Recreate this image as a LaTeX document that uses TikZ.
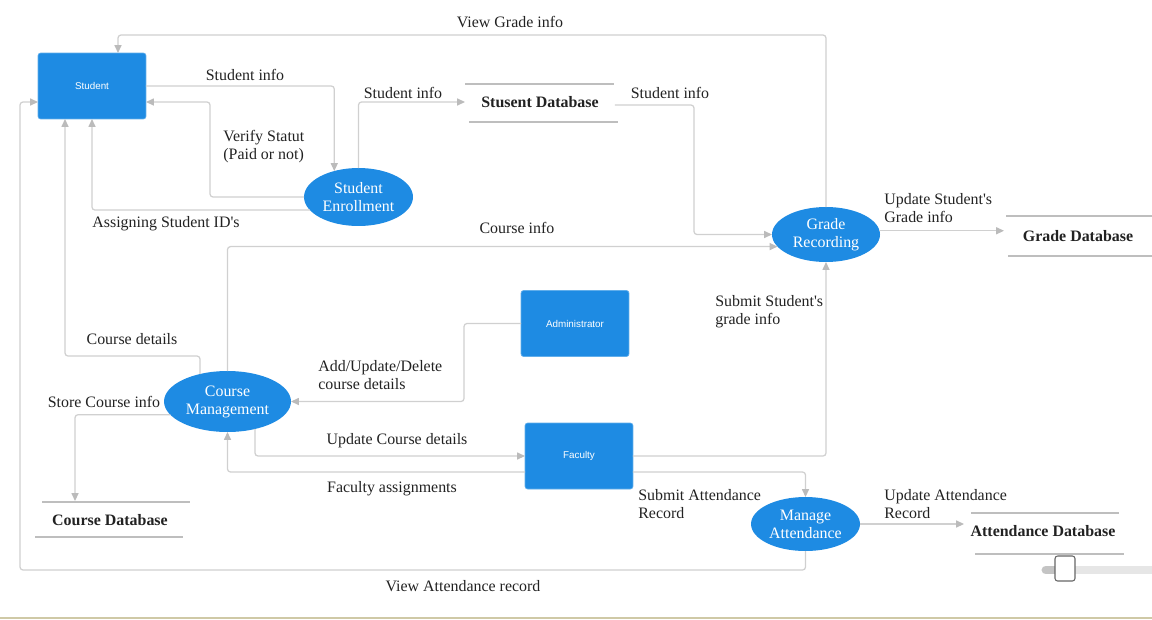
\documentclass[tikz,border=0pt]{standalone}
\usepackage{fontspec}
\setmainfont{Liberation Serif}
\setsansfont{Liberation Sans}
\usetikzlibrary{shapes.geometric,arrows.meta,calc}
\definecolor{boxblue}{HTML}{1E8BE3}
\definecolor{lineg}{HTML}{D0D0D0}
\definecolor{tipg}{HTML}{BBBBBB}
\definecolor{dbg}{HTML}{BEBEBE}
\definecolor{txt}{HTML}{222222}
\definecolor{trackg}{HTML}{E6E6E6}
\definecolor{trackd}{HTML}{C4C4C4}
\definecolor{bottomc}{HTML}{CFC9A6}
\begin{document}
\begin{tikzpicture}[x=0.02cm, y=-0.02cm,
    ext/.style={rectangle, rounded corners=1.5pt, fill=boxblue, draw=boxblue!70!white, line width=0.4pt, text=white, font=\sffamily\fontsize{5.6}{6.5}\selectfont, minimum width=2.16cm, minimum height=1.32cm, inner sep=0, outer sep=0},
    proc/.style={ellipse, fill=boxblue, text=white, align=center, font=\fontsize{9.07}{10.2}\selectfont, inner sep=0, outer sep=0},
    dstore/.style={font=\bfseries\fontsize{9.07}{10.2}\selectfont, text=txt, minimum height=0.76cm, inner sep=0, outer sep=0},
    lab/.style={font=\fontsize{9.07}{10.2}\selectfont, text=txt, align=left, inner sep=0},
    fl/.style={draw=lineg, line width=0.7pt, rounded corners=1.7pt, -{Triangle[length=4.5pt,width=4pt,color=tipg]}},
    dbline/.style={draw=dbg, line width=0.8pt}]
    \fill[white] (0,0) rectangle (1152,619);
    \useasboundingbox (0,0) rectangle (1152,619);

    % entities
    \node[ext] (student) at (92,86) {Student};
    \node[ext] (admin) at (575,323.5) {Administrator};
    \node[ext] (fac) at (579,456) {Faculty};

    % processes
    \node[proc, minimum width=2.18cm, minimum height=1.16cm] (enroll) at (358.5,197) {Student\\Enrollment};
    \node[proc, minimum width=2.16cm, minimum height=1.10cm] (grade) at (826,234.5) {Grade\\Recording};
    \node[proc, minimum width=2.54cm, minimum height=1.22cm] (course) at (227.5,401.5) {Course\\Management};
    \node[proc, minimum width=2.18cm, minimum height=1.08cm] (att) at (805.5,524) {Manage\\Attendance};

    % data stores
    \node[dstore, minimum width=3.0cm] (sdb) at (540,102) {Stusent Database};
    \node[dstore, minimum width=2.96cm] (gdb) at (1078,236) {Grade Database};
    \node[dstore, minimum width=3.0cm] (cdb) at (110,520) {Course Database};
    \node[dstore, minimum width=3.16cm] (adb) at (1043,531) {Attendance Database};
    \draw[dbline] (465,84) -- (614,84) (469,122) -- (618,122);
    \draw[dbline] (1006,216) -- (1152,216) (1008,256) -- (1152,256);
    \draw[dbline] (42,502) -- (190,502) (35,537) -- (183,537);
    \draw[dbline] (971,513) -- (1119,513) (975,554) -- (1124,554);

    \coordinate (vg) at (118,35);
    \coordinate (vl) at (20,570);

    % flows
    \draw[fl] (grade.north) |- (vg) -- (vg |- student.north);
    \draw[fl] (student.east) -| (enroll.133);
    \draw[fl] (enroll.west) -- ++(-94,0) |- ($(student.east)+(0,16)$);
    \draw[fl] (enroll.195) -| (student.south);
    \draw[fl] (enroll.north) |- (sdb.west);
    \draw[fl] ($(sdb.east)+(0,3)$) -- ++(79,0) |- (grade.west);
    \draw[fl] (course.north) |- (grade.194);
    \draw[fl] (grade.4) -- (grade.4 -| gdb.west);
    \draw[fl] (course.135) -- ++(0,-18) -| ($(student.south west)+(27,0)$);
    \draw[fl] (admin.west) -- ++(-57,0) |- (course.east);
    \draw[fl] (course.193) -| ($(cdb.north west)+(40,0)$);
    \draw[fl] (course.-45) |- (fac.west);
    \draw[fl] ($(fac.west)+(0,16)$) -| (course.south);
    \draw[fl] (fac.east) -| (grade.south);
    \draw[fl] ($(fac.east)+(0,16)$) -| (att.north);
    \draw[fl] (att.east) -- (att.east -| adb.west);
    \draw[fl] (att.south) |- (vl) |- ($(student.west)+(0,16)$);

    % labels
    \node[lab] (l1) at (510,22) {View Grade info};
    \node[lab] (l2) at (245,75) {Student info};
    \node[lab] (l3) at (403,93) {Student info};
    \node[lab] (l4) at (670,93) {Student info};
    \node[lab, anchor=west] (l5) at (223,147) {Verify Statut\\(Paid or not)};
    \node[lab] (l6) at (166,224) {Assigning Student ID\textquotesingle s};
    \node[lab] (l7) at (517,228) {Course info};
    \node[lab, anchor=west] (l8) at (884,208) {Update Student\textquotesingle s\\Grade info};
    \node[lab, anchor=west] (l9) at (715,312) {Submit Student\textquotesingle s\\grade info};
    \node[lab] (l10) at (132,339) {Course details};
    \node[lab, anchor=west] (l11) at (318,375) {Add/Update/Delete\\course details};
    \node[lab] (l12) at (104,402) {Store Course info};
    \node[lab] (l13) at (397,441) {Update Course details};
    \node[lab] (l14) at (392,489) {Faculty assignments};
    \node[lab, anchor=west] (l15) at (638,504) {Submit Attendance\\Record};
    \node[lab, anchor=west] (l16) at (884,504) {Update Attendance\\Record};
    \node[lab] (l17) at (463,586) {View Attendance record};

    % slider and bottom edge
    \draw[line width=5pt, line cap=round, draw=trackg] (1046,570) -- (1152,570);
    \draw[line width=5pt, line cap=round, draw=trackd] (1046,570) -- (1062,570);
    \draw[fill=white, draw=gray!80!black, rounded corners=1.5pt, line width=0.6pt] (1055,556) rectangle (1075,581);
    \fill[bottomc] (0,616.5) rectangle (1152,619);
\end{tikzpicture}
\end{document}
